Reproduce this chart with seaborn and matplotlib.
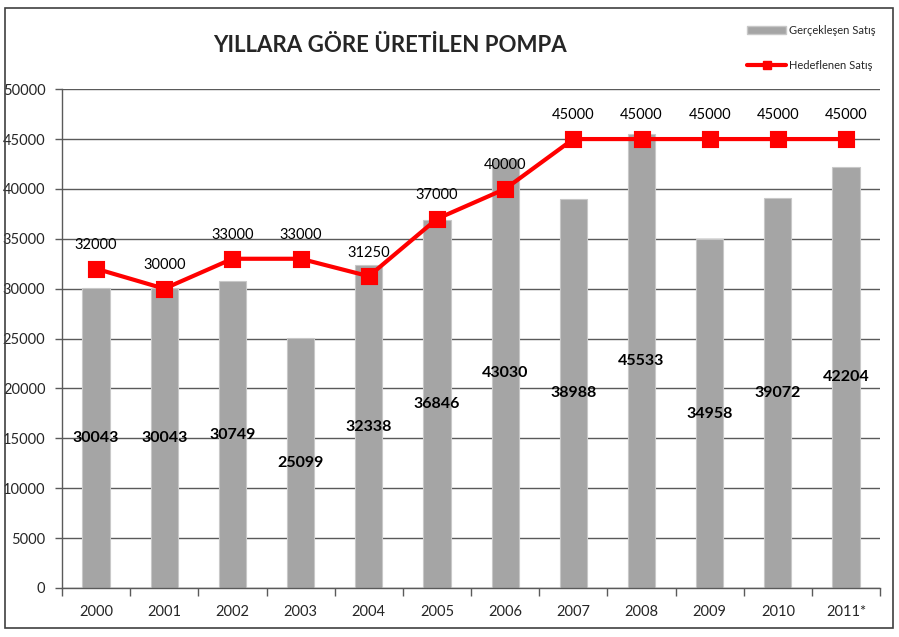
import matplotlib
matplotlib.use("Agg")
import matplotlib.pyplot as plt
import seaborn as sns
from matplotlib.lines import Line2D
from matplotlib.patches import Patch, Rectangle

years = ["2000", "2001", "2002", "2003", "2004", "2005",
         "2006", "2007", "2008", "2009", "2010", "2011*"]
actual = [30043, 30043, 30749, 25099, 32338, 36846,
          43030, 38988, 45533, 34958, 39072, 42204]
target = [32000, 30000, 33000, 33000, 31250, 37000,
          40000, 45000, 45000, 45000, 45000, 45000]

sns.set_style("white")
plt.rcParams["font.family"] = ["Lato", "DejaVu Sans"]

fig = plt.figure(figsize=(8.99, 6.37), dpi=100)
ax = fig.add_axes([0.069, 0.077, 0.910, 0.783])

# bars: actual sales
sns.barplot(x=years, y=actual, color="#A5A5A5", width=0.4, saturation=1,
            edgecolor="#C8C8C8", linewidth=0.8, ax=ax, zorder=2)
# line: target sales
sns.pointplot(x=years, y=target, color="#FF0000", markers="s",
              markersize=9.5, linewidth=3, ax=ax, zorder=4)

for i, v in enumerate(actual):
    ax.text(i, v / 2, str(v), ha="center", va="center", fontsize=11.5,
            fontweight="bold", color="black", zorder=5)
for i, v in enumerate(target):
    ax.annotate(str(v), (i, v), xytext=(0, 12), textcoords="offset points",
                ha="center", va="bottom", fontsize=10.5, color="black",
                zorder=5)

ax.set_ylim(0, 50000)
ax.set_xlim(-0.5, len(years) - 0.5)
ax.set_yticks(range(0, 50001, 5000))
ax.yaxis.grid(True, color="#5A5A5A", linewidth=1, zorder=0)
ax.set_axisbelow(True)
for s in ["top", "right"]:
    ax.spines[s].set_visible(False)
for s in ["left", "bottom"]:
    ax.spines[s].set_color("#5A5A5A")
    ax.spines[s].set_linewidth(1)

ax.tick_params(axis="y", direction="out", length=5, width=1,
               color="#5A5A5A", pad=7, labelsize=10.5, left=True)
ax.set_xticks([i + 0.5 for i in range(-1, len(years))], minor=True)
ax.tick_params(axis="x", which="minor", direction="out", length=6,
               width=1, color="#5A5A5A", bottom=True)
ax.tick_params(axis="x", which="major", length=0, pad=12, labelsize=10.5)
ax.set_xlabel("")
ax.set_ylabel("")

fig.text(0.434, 1 - 46 / 637, "YILLARA GÖRE ÜRETİLEN POMPA",
         ha="center", va="center", fontsize=16, fontweight="bold")

handles = [
    Patch(facecolor="#A5A5A5", edgecolor="#C8C8C8"),
    Line2D([0], [0], color="#FF0000", linewidth=3, marker="s",
           markersize=6),
]
fig.legend(handles, ["Gerçekleşen Satış", "Hedeflenen Satış"],
           loc="upper left", bbox_to_anchor=(0.82, 0.977), frameon=False,
           fontsize=8, labelspacing=2.2, handlelength=3.5,
           handletextpad=0.3)

# outer chart frame
fig.patches.append(Rectangle((5 / 899, 9 / 637), 888 / 899, 620 / 637,
                             transform=fig.transFigure, fill=False,
                             edgecolor="#404040", linewidth=1.2))

fig.savefig("out.png", dpi=100)
